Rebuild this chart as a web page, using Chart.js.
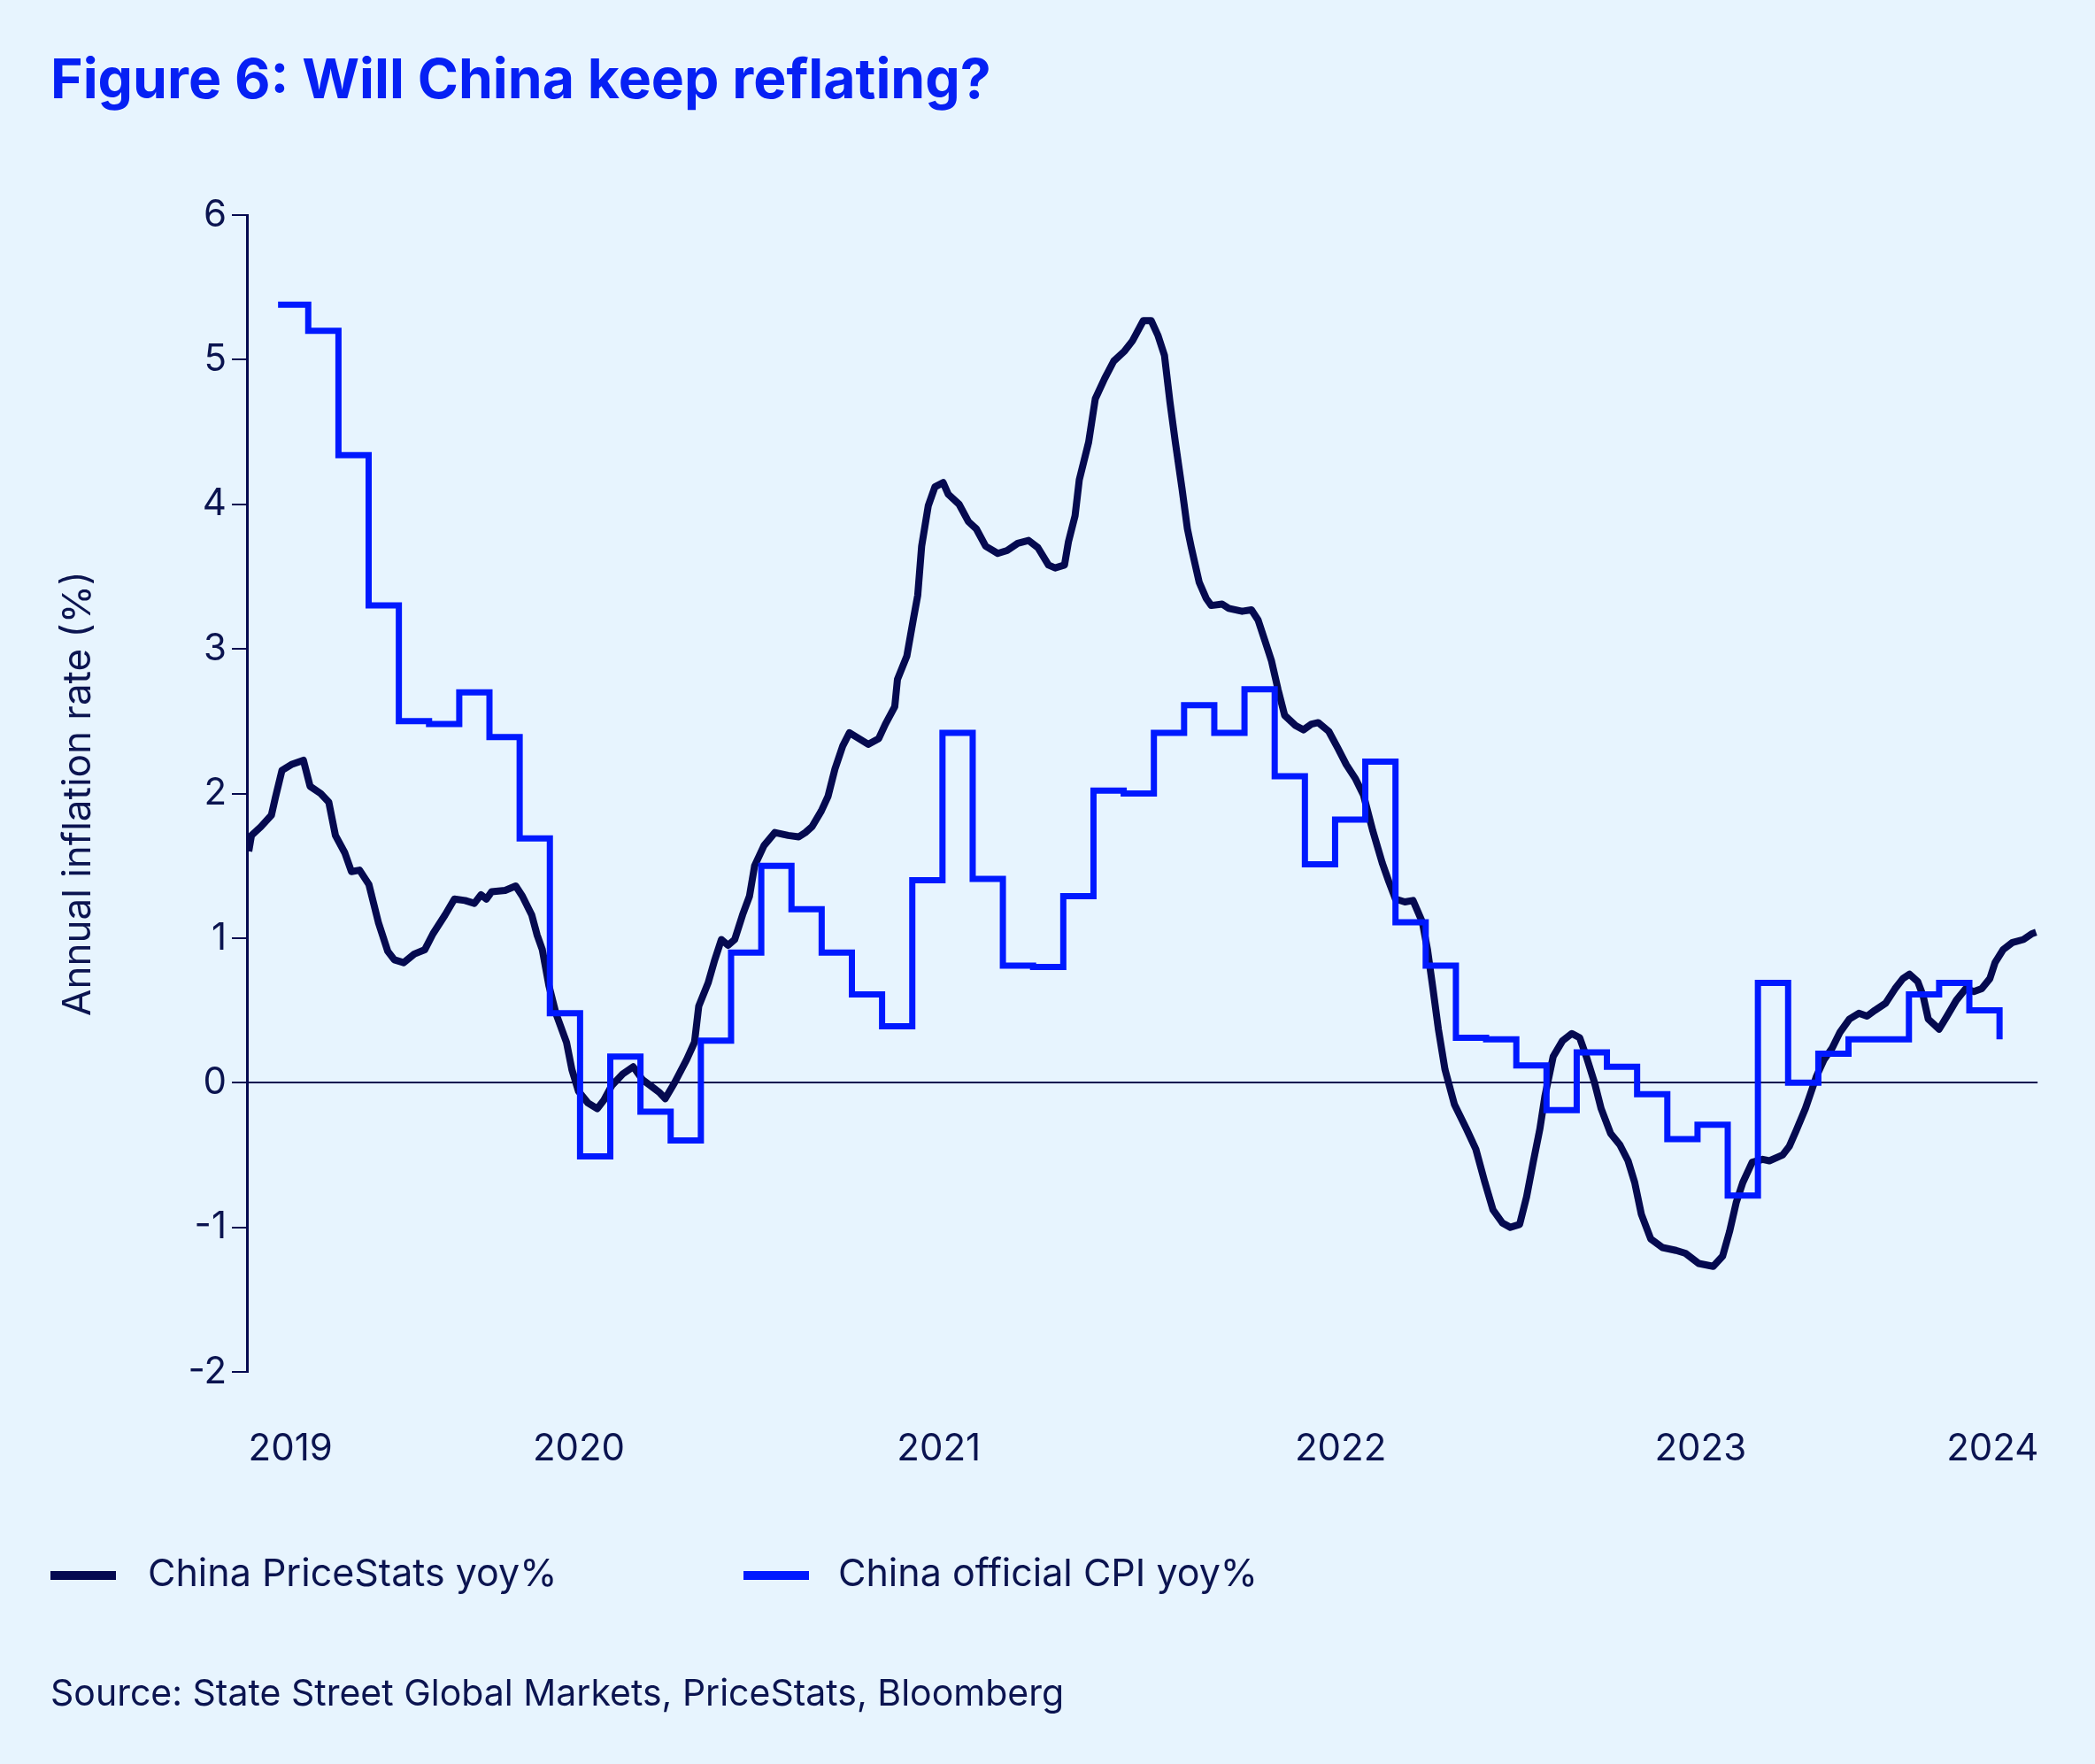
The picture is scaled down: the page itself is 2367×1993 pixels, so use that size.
<!DOCTYPE html>
<html>
<head>
<meta charset="utf-8">
<script src="https://cdn.jsdelivr.net/npm/chart.js@4.4.1/dist/chart.umd.min.js"></script>
<style>
  html, body { margin: 0; padding: 0; background: #E7F4FE; }
  body { width: 2367px; height: 1993px; position: relative; overflow: hidden; font-family: Inter, "Noto Sans", sans-serif; }
  #chart { position: absolute; left: 0; top: 0; }
  .title { position: absolute; left: 57px; top: 57px; font-size: 62.5px; line-height: 62px; font-weight: 700; color: #0620F4; white-space: nowrap; }
  .legend-item { position: absolute; top: 1754px; height: 44px; }
  .swatch { position: absolute; top: 21px; width: 74px; height: 10px; }
  .legend-text { position: absolute; font-size: 43px; line-height: 44px; color: #0B1450; white-space: nowrap; }
  .source { position: absolute; left: 57px; top: 1892px; font-size: 41px; line-height: 41px; color: #0B1450; white-space: nowrap; }
</style>
</head>
<body>
<div class="title">Figure 6: Will China keep reflating?</div>
<canvas id="chart" width="2367" height="1993"></canvas>
<div class="legend-item" style="left:57px;">
  <div class="swatch" style="left:0;background:#050A50;"></div>
  <div class="legend-text" style="left:110px;">China PriceStats yoy%</div>
</div>
<div class="legend-item" style="left:840px;">
  <div class="swatch" style="left:0;background:#0019FF;"></div>
  <div class="legend-text" style="left:107px;">China official CPI yoy%</div>
</div>
<div class="source">Source: State Street Global Markets, PriceStats, Bloomberg</div>
<script>
// ---- Data (x = months from the first official CPI print) ----
const seriesNames = ["China PriceStats yoy%", "China official CPI yoy%"];

const xTickPositions = [0.41, 9.96, 21.88, 35.18, 47.1, 56.77];
const xTickLabels = ["2019", "2020", "2021", "2022", "2023", "2024"];

const cpiMonth = [0,1,2,3,4,5,6,7,8,9,10,11,12,13,14,15,16,17,18,19,20,21,22,23,24,25,26,27,28,29,30,31,32,33,34,35,36,37,38,39,40,41,42,43,44,45,46,47,48,49,50,51,52,53,54,55,56,57];
const cpiValue = [5.38,5.2,4.34,3.3,2.5,2.48,2.7,2.39,1.69,0.48,-0.51,0.18,-0.2,-0.4,0.29,0.9,1.5,1.2,0.9,0.61,0.39,1.4,2.42,1.41,0.81,0.8,1.29,2.02,2.0,2.42,2.61,2.42,2.72,2.12,1.51,1.82,2.22,1.11,0.81,0.31,0.3,0.12,-0.19,0.21,0.11,-0.08,-0.39,-0.29,-0.78,0.69,0.0,0.2,0.3,0.3,0.61,0.69,0.5,0.3];

const psMonth = [-0.97,-0.88,-0.57,-0.22,-0.09,0.13,0.44,0.84,1.06,1.41,
1.68,1.90,2.21,2.43,2.70,3.01,3.32,3.63,3.85,4.16,
4.51,4.86,5.13,5.53,5.84,6.19,6.50,6.72,6.90,7.07,
7.52,7.87,8.09,8.40,8.58,8.75,8.97,9.20,9.55,9.73,
9.95,10.26,10.57,10.79,11.05,11.41,11.76,12.07,12.33,12.64,
12.82,13.13,13.53,13.79,13.93,14.24,14.46,14.68,14.90,15.12,
15.38,15.61,15.78,16.09,16.45,16.89,17.24,17.46,17.68,17.99,
18.21,18.44,18.70,18.92,19.23,19.54,19.89,20.11,20.42,20.51,
20.82,21.04,21.18,21.31,21.53,21.75,22.02,22.19,22.55,22.86,
23.12,23.43,23.83,24.14,24.49,24.85,25.16,25.51,25.73,26.04,
26.17,26.39,26.53,26.84,27.06,27.37,27.67,28.03,28.29,28.65,
28.91,29.13,29.35,29.53,29.71,29.93,30.11,30.24,30.50,30.73,
30.90,31.26,31.48,31.92,32.23,32.45,32.67,32.89,33.11,33.33,
33.69,33.95,34.22,34.44,34.79,35.10,35.37,35.68,35.94,36.25,
36.56,36.78,37.00,37.31,37.58,37.89,38.06,38.24,38.42,38.64,
38.95,39.35,39.66,39.96,40.23,40.54,40.80,41.11,41.34,41.56,
41.78,41.95,42.22,42.53,42.84,43.10,43.32,43.59,43.81,44.12,
44.43,44.70,44.92,45.14,45.45,45.84,46.29,46.60,47.04,47.52,
47.83,48.06,48.28,48.50,48.81,49.16,49.38,49.82,50.04,50.27,
50.57,50.75,50.93,51.19,51.46,51.72,52.03,52.34,52.61,52.87,
53.23,53.54,53.80,54.02,54.29,54.47,54.64,55.00,55.26,55.57,
55.88,56.15,56.41,56.68,56.85,57.12,57.43,57.79,58.07,58.21];

const psValue = [1.60,1.71,1.77,1.85,1.97,2.16,2.20,2.23,2.05,2.00,
1.94,1.71,1.59,1.46,1.47,1.37,1.11,0.91,0.85,0.83,
0.89,0.92,1.03,1.16,1.27,1.26,1.24,1.30,1.27,1.32,
1.33,1.36,1.29,1.16,1.02,0.92,0.67,0.48,0.28,0.09,
-0.06,-0.14,-0.18,-0.12,-0.02,0.06,0.11,0.02,-0.02,-0.07,
-0.11,0.00,0.16,0.28,0.53,0.69,0.85,0.99,0.95,0.99,
1.16,1.29,1.50,1.64,1.73,1.71,1.70,1.73,1.77,1.88,
1.98,2.17,2.33,2.42,2.38,2.34,2.38,2.48,2.60,2.79,
2.95,3.21,3.37,3.71,3.99,4.12,4.15,4.07,4.00,3.88,
3.83,3.71,3.66,3.68,3.73,3.75,3.70,3.58,3.56,3.58,
3.74,3.92,4.17,4.43,4.73,4.87,4.99,5.06,5.13,5.27,
5.27,5.17,5.03,4.71,4.43,4.11,3.83,3.70,3.46,3.35,
3.30,3.31,3.28,3.26,3.27,3.20,3.06,2.92,2.72,2.54,
2.47,2.44,2.48,2.49,2.43,2.31,2.20,2.10,1.99,1.74,
1.52,1.39,1.27,1.25,1.26,1.11,0.92,0.65,0.37,0.09,
-0.15,-0.32,-0.46,-0.69,-0.88,-0.97,-1.00,-0.98,-0.79,-0.55,
-0.32,-0.09,0.18,0.29,0.34,0.31,0.18,0.00,-0.18,-0.35,
-0.43,-0.54,-0.69,-0.91,-1.08,-1.14,-1.16,-1.18,-1.25,-1.27,
-1.20,-1.03,-0.83,-0.69,-0.55,-0.53,-0.54,-0.50,-0.44,-0.33,
-0.18,-0.07,0.04,0.16,0.24,0.35,0.44,0.48,0.46,0.50,
0.55,0.65,0.72,0.75,0.70,0.60,0.44,0.37,0.46,0.57,
0.65,0.63,0.65,0.72,0.83,0.92,0.97,0.99,1.03,1.04];

// ---- Styling ----
const NAVY = '#050A50';
const TEXT = '#0B1450';
const BLUE = '#0019FF';

Chart.defaults.font.family = 'Inter, "Noto Sans", sans-serif';
Chart.defaults.color = TEXT;

const ctx = document.getElementById('chart').getContext('2d');
new Chart(ctx, {
  type: 'line',
  data: {
    datasets: [
      {
        label: seriesNames[0],
        data: psMonth.map((m, i) => ({ x: m, y: psValue[i] })),
        borderColor: NAVY,
        borderWidth: 8,
        pointRadius: 0,
        tension: 0,
        borderJoinStyle: 'round',
        order: 1
      },
      {
        label: seriesNames[1],
        data: cpiMonth.map((m, i) => ({ x: m, y: cpiValue[i] })),
        borderColor: BLUE,
        borderWidth: 7,
        pointRadius: 0,
        stepped: true,
        borderJoinStyle: 'miter',
        borderCapStyle: 'butt',
        order: 0
      }
    ]
  },
  options: {
    responsive: false,
    animation: false,
    devicePixelRatio: 1,
    layout: { padding: { left: 0, top: 243, right: 64, bottom: 293 } },
    plugins: { legend: { display: false }, tooltip: { enabled: false } },
    scales: {
      x: {
        type: 'linear',
        min: -1.03,
        max: 58.26,
        afterBuildTicks: (scale) => { scale.ticks = xTickPositions.map(v => ({ value: v })); },
        afterFit: (scale) => { scale.height = 150; },
        grid: { display: false, drawTicks: false },
        border: { display: false },
        ticks: {
          autoSkip: false,
          maxRotation: 0,
          padding: 62,
          font: { size: 42 },
          color: TEXT,
          callback: (value, index) => xTickLabels[index]
        }
      },
      y: {
        min: -2,
        max: 6,
        afterFit: (scale) => { scale.width = 279; },
        ticks: { stepSize: 1, padding: 6, font: { size: 42 }, color: TEXT },
        grid: {
          drawTicks: true,
          tickLength: 17,
          tickColor: NAVY,
          tickWidth: 2,
          lineWidth: 2,
          color: (c) => (c.tick && c.tick.value === 0 ? NAVY : 'rgba(0,0,0,0)')
        },
        border: { display: true, color: NAVY, width: 3 },
        title: {
          display: true,
          text: 'Annual inflation rate (%)',
          font: { size: 44 },
          color: TEXT,
          padding: { top: 62, bottom: 0 }
        }
      }
    }
  }
});
</script>
</body>
</html>
